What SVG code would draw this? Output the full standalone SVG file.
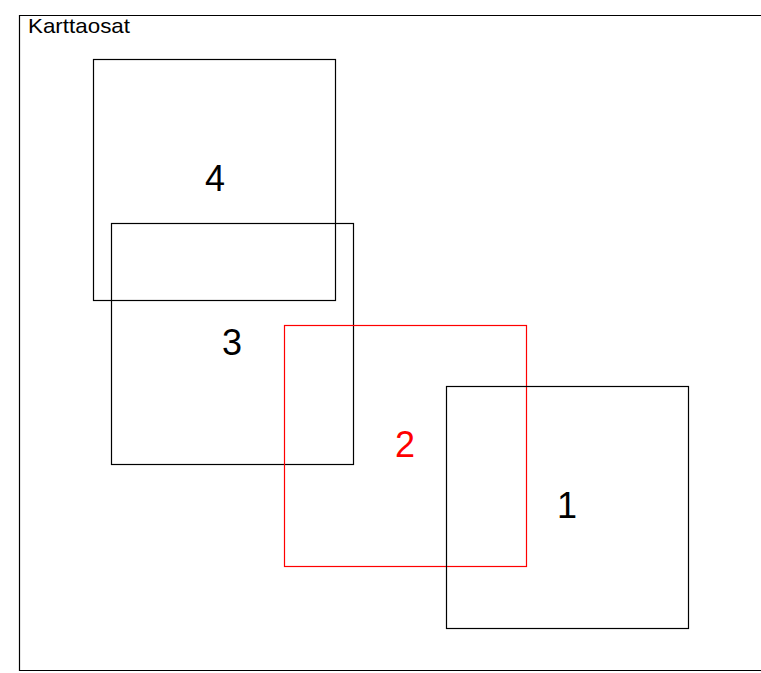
<svg xmlns="http://www.w3.org/2000/svg" width="761" height="673" viewBox="0 0 761 673">
<style>
.box{fill:none;stroke:#000;stroke-width:1.2}
.red{stroke:#ff0000}
.lbl{font-family:"Liberation Sans",Arial,sans-serif;font-size:36px;text-anchor:middle;fill:#000}
.title{font-family:"Liberation Sans",Arial,sans-serif;font-size:21px;fill:#000}
</style>
<rect width="761" height="673" fill="#fff"/>
<g id="frame">
<path class="box" d="M775,15.5 H19.5 V670.5 H775"/>
<text class="title" x="28" y="33" textLength="102" lengthAdjust="spacingAndGlyphs">Karttaosat</text>
</g>
<g id="node4">
<rect class="box" x="93.5" y="59.5" width="242" height="241"/>
<text class="lbl" x="215" y="191">4</text>
</g>
<g id="node3">
<rect class="box" x="111.5" y="223.5" width="242" height="241"/>
<text class="lbl" x="232" y="355">3</text>
</g>
<g id="node2">
<rect class="box red" x="284.5" y="325.5" width="242" height="241"/>
<text class="lbl" x="405" y="457" style="fill:#ff0000">2</text>
</g>
<g id="node1">
<rect class="box" x="446.5" y="386.5" width="242" height="242"/>
<text class="lbl" x="567" y="518">1</text>
</g>
<g id="connectors"></g>
</svg>
